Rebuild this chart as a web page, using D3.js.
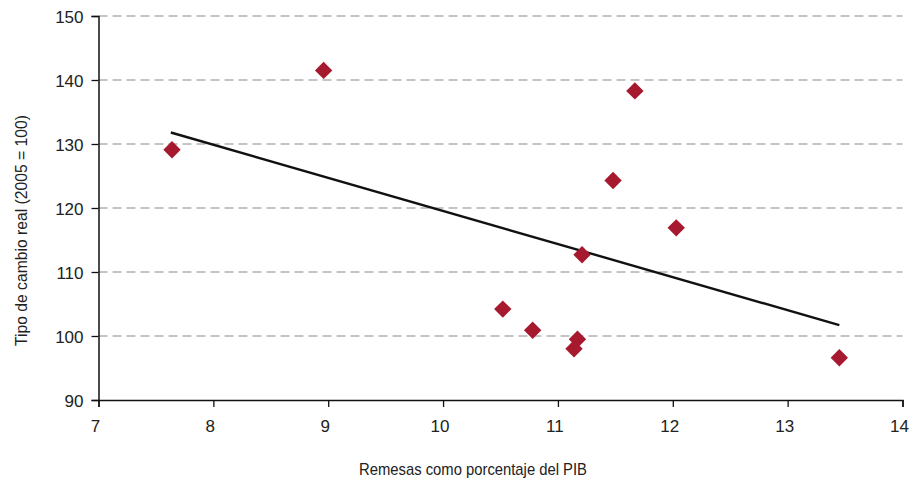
<!DOCTYPE html>
<html><head><meta charset="utf-8">
<script src="https://cdn.jsdelivr.net/npm/d3@7"></script>
<style>
body{margin:0;background:#fff;}
text{font-family:"Liberation Sans",Arial,sans-serif;fill:#222;}
</style></head><body>
<svg id="c" width="911" height="481"></svg>
<script>
const remesas = [7.64, 8.96, 11.67, 11.48, 12.03, 11.21, 10.52, 10.78, 11.17, 11.14, 13.45];
const tipoCambio = [129.1, 141.5, 138.3, 124.3, 116.9, 112.7, 104.2, 100.9, 99.5, 98.0, 96.6];
const trendX = [7.63, 13.45];
const trendY = [131.8, 101.7];
const xTicks = [7, 8, 9, 10, 11, 12, 13, 14];
const yTicks = [90, 100, 110, 120, 130, 140, 150];
const xTitle = "Remesas como porcentaje del PIB";
const yTitle = "Tipo de cambio real (2005 = 100)";

const svg = d3.select("#c");
const x = d3.scaleLinear().domain([7, 14]).range([98.5, 902.5]);
const y = d3.scaleLinear().domain([90, 150]).range([400, 16]);

// gridlines
svg.append("g").selectAll("line").data(yTicks.filter(d => d > 90)).join("line")
  .attr("x1", x(7)).attr("x2", x(14))
  .attr("y1", d => y(d)).attr("y2", d => y(d))
  .attr("stroke", "#8c8c8c").attr("stroke-width", 1.2).attr("stroke-dasharray", "9,5");

// axes
const xa = svg.append("g").attr("transform", `translate(0,${y(90)})`)
  .call(d3.axisBottom(x).tickValues(xTicks).tickSize(7).tickPadding(13).tickFormat(d3.format("d")));
const ya = svg.append("g").attr("transform", `translate(${x(7)},0)`)
  .call(d3.axisLeft(y).tickValues(yTicks).tickSize(7).tickPadding(8).tickFormat(d3.format("d")));
[xa, ya].forEach(a => {
  a.select(".domain").attr("stroke", "#111").attr("stroke-width", 1.5);
  a.selectAll(".tick line").attr("stroke", "#111").attr("stroke-width", 1.3);
  a.selectAll(".tick text").attr("font-size", 17).attr("fill", "#222")
    .attr("font-family", "'Liberation Sans',Arial,sans-serif");
});
xa.selectAll(".tick text").attr("dx", -3.5);
ya.selectAll(".tick text").attr("dy", "0.39em");

// trend line
svg.append("line")
  .attr("x1", x(trendX[0])).attr("y1", y(trendY[0]))
  .attr("x2", x(trendX[1])).attr("y2", y(trendY[1]))
  .attr("stroke", "#111").attr("stroke-width", 2.4);

// diamonds
const r = 8.7;
svg.append("g").selectAll("path").data(remesas.map((v, i) => [v, tipoCambio[i]])).join("path")
  .attr("transform", d => `translate(${x(d[0])},${y(d[1])})`)
  .attr("d", `M0,${-r}L${r},0L0,${r}L${-r},0Z`)
  .attr("fill", "#a6192e");

// titles
svg.append("text").attr("x", 473).attr("y", 475).attr("text-anchor", "middle")
  .attr("font-size", 17).attr("textLength", 228).attr("lengthAdjust", "spacingAndGlyphs").text(xTitle);
svg.append("text").attr("transform", `translate(27,230.5) rotate(-90)`).attr("text-anchor", "middle")
  .attr("font-size", 17).attr("textLength", 231).attr("lengthAdjust", "spacingAndGlyphs").text(yTitle);
</script></body></html>
